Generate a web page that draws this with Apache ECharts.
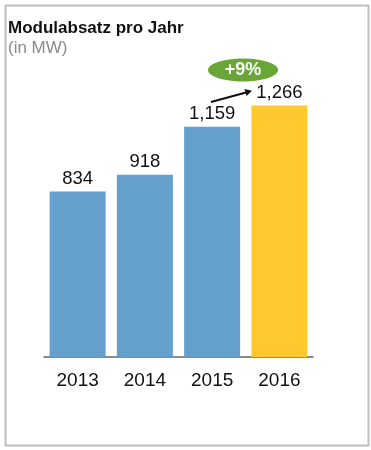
<!DOCTYPE html>
<html><head><meta charset="utf-8">
<script src="https://cdn.jsdelivr.net/npm/echarts@6/dist/echarts.min.js"></script>
<style>html,body{margin:0;padding:0;background:#fff}#c{width:371px;height:450px}</style>
</head><body><div id="c"></div>
<script>
const years = ['2013','2014','2015','2016'];
const values = [834, 918, 1159, 1266];
const growthLabel = '+9%';
const titleText = 'Modulabsatz pro Jahr';
const subtitleText = '(in MW)';

const chart = echarts.init(document.getElementById('c'), null, {renderer:'canvas'});
const font = 'Liberation Sans, Arial, sans-serif';
chart.setOption({
  animation:false,
  backgroundColor:'#fff',
  title:{text:titleText, subtext:subtitleText, left:3, top:15, itemGap:3,
    textStyle:{fontFamily:font, fontSize:17, fontWeight:'bold', color:'#111'},
    subtextStyle:{fontFamily:font, fontSize:17, color:'#8a8a8a'}},
  grid:{left:44, right:58, top:79, bottom:93},
  xAxis:{type:'category', data:years,
    axisLine:{lineStyle:{color:'#666', width:1.5}}, axisTick:{show:false},
    axisLabel:{fontFamily:font, fontSize:19, color:'#111', margin:14}},
  yAxis:{type:'value', min:0, max:1400, show:false, splitLine:{show:false}},
  series:[{type:'bar', data:values.map((v,i)=>({value:v, itemStyle:{color:i===3?'#fec82e':'#64a0cb'}})),
    barWidth:56,
    label:{show:true, position:'top', distance:3, fontFamily:font, fontSize:18.5, color:'#111',
      formatter:p=>p.value.toLocaleString('en-US')}}],
  graphic:[
    {type:'rect', left:3, top:3, shape:{x:0,y:0,width:363,height:440}, style:{fill:'none', stroke:'#bdbdbd', lineWidth:2}, silent:true},
    {type:'ellipse', shape:{cx:243, cy:70, rx:35, ry:11.5}, style:{fill:'#6aa637'}},
    {type:'text', x:243, y:70, style:{text:growthLabel, fill:'#fff', font:'bold 18px '+font, align:'center', verticalAlign:'middle'}},
    {type:'line', shape:{x1:211, y1:102, x2:246, y2:92.5}, style:{stroke:'#111', lineWidth:2}},
    {type:'polygon', shape:{points:[[252,90.8],[244.5,89],[246.5,96]]}, style:{fill:'#111'}}
  ]
});
</script></body></html>
